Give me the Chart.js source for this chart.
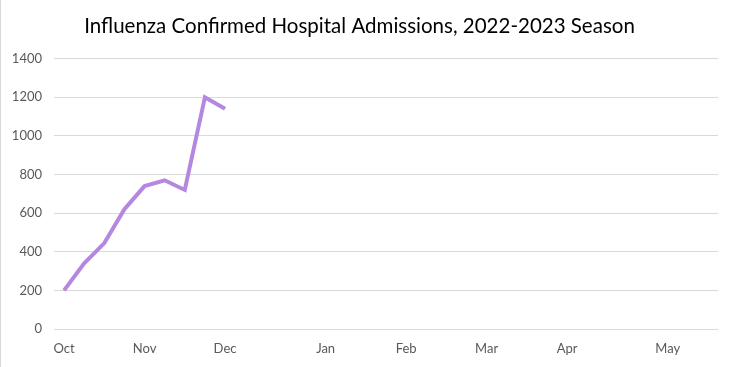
<!DOCTYPE html>
<html>
<head>
<meta charset="utf-8">
<script src="https://cdn.jsdelivr.net/npm/chart.js@4"></script>
<style>
  html, body { margin: 0; padding: 0; background: #fff; }
  #wrap { width: 736px; height: 367px; border-left: 1px solid #d9d9d9; }
</style>
</head>
<body>
<div id="wrap"><canvas id="grafico" width="736" height="367"></canvas></div>
<script>
// semanas da temporada (so o inicio de cada mes tem rotulo)
let semanas = [
  "Oct", "", "", "",
  "Nov", "", "", "",
  "Dec", "", "", "", "",
  "Jan", "", "", "",
  "Feb", "", "", "",
  "Mar", "", "", "",
  "Apr", "", "", "", "",
  "May", "", ""
];

// internacoes confirmadas por semana
let internacoes = [200, 340, 445, 620, 740, 770, 720, 1200, 1140];

let ticksY = [0, 200, 400, 600, 800, 1000, 1200, 1400];

let titulo = "Influenza Confirmed Hospital Admissions, 2022-2023 Season";

// completa o resto da temporada com null (sem dados ainda)
let valores = semanas.map((s, i) => i < internacoes.length ? internacoes[i] : null);

let ctx = document.getElementById("grafico").getContext("2d");

let chart = new Chart(ctx, {
  type: "line",
  data: {
    labels: semanas,
    datasets: [{
      data: valores,
      borderColor: "#b488e0",
      borderWidth: 4,
      pointRadius: 0,
      tension: 0,
      spanGaps: false
    }]
  },
  options: {
    responsive: false,
    animation: false,
    layout: { padding: { left: 0, right: 19, top: 0, bottom: 0 } },
    plugins: {
      legend: { display: false },
      tooltip: { enabled: false },
      title: {
        display: true,
        text: titulo,
        color: "#000",
        font: { family: "Lato", size: 20.5, weight: "normal" },
        padding: { top: 14, bottom: 20 }
      }
    },
    scales: {
      x: {
        offset: true,
        grid: { display: false, drawTicks: false },
        border: { display: false },
        ticks: {
          autoSkip: false,
          maxRotation: 0,
          padding: 12,
          color: "#595959",
          font: { family: "Lato", size: 13 }
        },
        afterFit: function (axis) { axis.height = 38; }
      },
      y: {
        min: 0,
        max: 1400,
        afterBuildTicks: function (axis) {
          axis.ticks = ticksY.map(v => ({ value: v }));
        },
        grid: { color: "#d9d9d9", lineWidth: 1, drawTicks: false },
        border: { display: false },
        ticks: {
          padding: 12,
          color: "#595959",
          font: { family: "Lato", size: 13 },
          callback: v => String(v)
        },
        afterFit: function (axis) { axis.width = 53; }
      }
    }
  }
});
</script>
</body>
</html>
